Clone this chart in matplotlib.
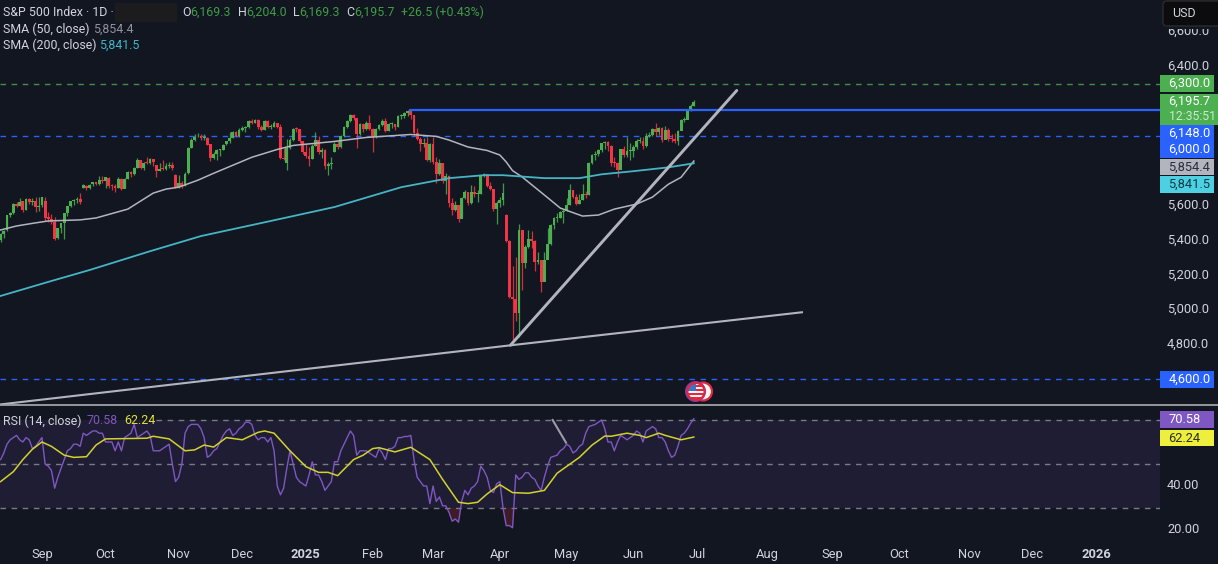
# plot.py
import matplotlib
matplotlib.use("Agg")
import matplotlib.pyplot as plt
from matplotlib.patches import Circle, FancyBboxPatch, Rectangle
import numpy as np

plt.rcParams['font.family'] = ['Roboto', 'DejaVu Sans']

BG = '#121620'
UP = '#4caf50'
DOWN = '#f23645'
TEXT = '#d1d4dc'

# Daily candles, Aug 2024 to Jun 2025
opens = [
    5400, 5434, 5460, 5543, 5556, 5608, 5597, 5622, 5575, 5637, 5617, 5626, 5592, 5600,
    5623, 5530, 5519, 5505, 5410, 5472, 5497, 5555, 5596, 5627, 5632, 5635, 5702, 5712, 5702, 5720, 5733, 5724, 5745, 5738,
    5758, 5710, 5708, 5700, 5752, 5696, 5752, 5792, 5780, 5817, 5859, 5816, 5842, 5842, 5865, 5830, 5798, 5812, 5810, 5823, 5832, 5775,
    5705, 5727, 5712, 5786, 5930, 5973, 5996, 6000, 5985, 5985, 5950, 5870, 5893, 5917, 5917, 5950, 5969, 5988, 6021, 5998,
    6032, 6047, 6050, 6086, 6075, 6090, 6052, 6034, 6084, 6051, 6051, 6074, 6050, 5872, 5842, 5930, 5974, 6040, 6037, 5970, 5906,
    5882, 5868, 5942, 5975, 5909, 5918, 5827, 5836, 5905, 5950, 5937, 5997, 6049, 6086, 6119, 6101, 6012, 6067, 6039, 6071,
    6040, 5994, 6038, 6061, 6083, 6026, 6066, 6068, 6052, 6115, 6115, 6130, 6144, 6118, 6013, 5983, 5955, 5956, 5861,
    5955, 5849, 5778, 5842, 5738, 5770, 5615, 5572, 5599, 5522, 5639, 5675, 5615, 5675, 5663, 5667, 5768, 5777, 5712, 5693, 5581,
    5612, 5633, 5545, 5397, 5074, 5062, 4983, 5457, 5268, 5363, 5406, 5397, 5276, 5283, 5158, 5287, 5376, 5485, 5525, 5529, 5561,
    5569, 5604, 5687, 5650, 5607, 5631, 5664, 5660, 5844, 5887, 5892, 5917, 5958, 5964, 5940, 5845, 5842, 5802, 5922, 5889, 5912,
    5912, 5936, 5970, 5971, 5939, 6000, 6006, 6038, 6022, 6045, 5977, 6033, 5982, 5980, 5968, 6025, 6092, 6092, 6141, 6169.3,
]
highs = [
    5440, 5460, 5546, 5562, 5612, 5621, 5643, 5626, 5643, 5642, 5643, 5649, 5647, 5650,
    5650, 5560, 5552, 5530, 5470, 5482, 5502, 5562, 5600, 5636, 5650, 5670, 5720, 5715, 5722, 5735, 5735, 5767, 5768, 5765,
    5765, 5720, 5720, 5760, 5755, 5758, 5796, 5795, 5822, 5872, 5862, 5846, 5878, 5870, 5866, 5815, 5842, 5862, 5842, 5850, 5850, 5780,
    5772, 5740, 5790, 5935, 5985, 6012, 6017, 6010, 6008, 5990, 5955, 5905, 5925, 5925, 5955, 5972, 6020, 6025, 6025, 6044,
    6055, 6055, 6090, 6098, 6095, 6094, 6060, 6090, 6090, 6065, 6085, 6075, 6070, 5930, 5980, 5985, 6045, 6050, 6040, 5970, 5955,
    5935, 5950, 6021, 6000, 5930, 5925, 5850, 5875, 5965, 5970, 6005, 6055, 6092, 6125, 6125, 6030, 6075, 6070, 6085, 6121,
    6045, 6042, 6065, 6095, 6100, 6075, 6076, 6065, 6118, 6125, 6135, 6148, 6146, 6120, 6045, 5992, 5985, 5995, 5960,
    5990, 5880, 5865, 5845, 5785, 5775, 5640, 5625, 5600, 5645, 5685, 5675, 5715, 5710, 5685, 5775, 5785, 5780, 5735, 5695, 5625,
    5650, 5730, 5550, 5400, 5250, 5300, 5490, 5460, 5370, 5460, 5450, 5400, 5330, 5285, 5330, 5470, 5490, 5530, 5553, 5567, 5580,
    5640, 5720, 5687, 5665, 5665, 5720, 5680, 5850, 5895, 5910, 5925, 5960, 5970, 5970, 5945, 5880, 5850, 5925, 5940, 5990, 5960,
    5945, 5980, 5990, 5995, 6015, 6022, 6045, 6075, 6050, 6050, 6055, 6045, 6010, 6018, 6030, 6098, 6105, 6145, 6185, 6204,
]
lows = [
    5390, 5410, 5455, 5530, 5550, 5590, 5595, 5560, 5575, 5610, 5600, 5560, 5570, 5590,
    5510, 5505, 5495, 5400, 5405, 5440, 5405, 5540, 5590, 5600, 5615, 5605, 5700, 5690, 5695, 5710, 5715, 5715, 5730, 5700,
    5700, 5690, 5675, 5700, 5690, 5700, 5750, 5760, 5775, 5815, 5810, 5805, 5835, 5840, 5825, 5762, 5795, 5800, 5805, 5815, 5800, 5700,
    5700, 5700, 5710, 5780, 5930, 5970, 5990, 5975, 5975, 5945, 5855, 5865, 5860, 5885, 5915, 5945, 5960, 5985, 5990, 5995,
    6025, 6020, 6045, 6070, 6075, 6040, 6025, 6030, 6045, 6040, 6050, 6045, 5865, 5860, 5805, 5925, 5970, 6020, 5960, 5895, 5870,
    5825, 5865, 5940, 5895, 5870, 5810, 5775, 5810, 5905, 5925, 5930, 5990, 6045, 6080, 6090, 5930, 6005, 6020, 6035, 6030,
    5908, 5985, 6030, 6055, 6020, 6025, 6045, 6030, 6050, 6095, 6100, 6115, 6095, 6005, 5975, 5910, 5935, 5855, 5850,
    5835, 5730, 5775, 5730, 5665, 5590, 5545, 5565, 5505, 5530, 5635, 5600, 5610, 5650, 5620, 5665, 5760, 5705, 5685, 5570, 5490,
    5590, 5600, 5390, 5065, 4800, 4935, 4845, 5115, 5240, 5355, 5355, 5220, 5260, 5100, 5205, 5340, 5370, 5465, 5505, 5525, 5500,
    5565, 5600, 5640, 5600, 5605, 5630, 5640, 5660, 5840, 5860, 5885, 5905, 5925, 5910, 5825, 5820, 5765, 5865, 5875, 5875, 5860,
    5880, 5925, 5960, 5925, 5935, 5995, 6000, 6000, 6005, 5965, 5985, 5970, 5965, 5960, 5945, 6060, 6080, 6095, 6140, 6169.3,
]
closes = [
    5434, 5455, 5543, 5554, 5608, 5597, 5621, 5571, 5635, 5617, 5625, 5592, 5592, 5648,
    5529, 5520, 5503, 5408, 5471, 5496, 5554, 5596, 5626, 5633, 5634, 5618, 5714, 5702, 5718, 5732, 5722, 5745, 5738, 5762,
    5709, 5709, 5700, 5751, 5696, 5751, 5792, 5780, 5815, 5859, 5815, 5842, 5841, 5865, 5851, 5797, 5809, 5808, 5823, 5832, 5813, 5705,
    5728, 5712, 5782, 5929, 5973, 5995, 6001, 5984, 5985, 5949, 5870, 5893, 5917, 5917, 5948, 5969, 5987, 6021, 5998, 6032,
    6047, 6050, 6086, 6075, 6090, 6052, 6034, 6084, 6051, 6051, 6074, 6050, 5872, 5867, 5930, 5974, 6040, 6037, 5970, 5906, 5882,
    5868, 5942, 5975, 5909, 5918, 5827, 5836, 5842, 5950, 5937, 5997, 6049, 6086, 6119, 6101, 6012, 6067, 6039, 6071, 6040,
    5994, 6038, 6061, 6083, 6026, 6066, 6068, 6052, 6115, 6115, 6130, 6144, 6118, 6013, 5983, 5955, 5956, 5861, 5955,
    5849, 5778, 5842, 5738, 5770, 5615, 5572, 5599, 5522, 5639, 5675, 5615, 5675, 5663, 5667, 5768, 5777, 5712, 5693, 5581, 5612,
    5633, 5671, 5397, 5074, 5062, 4983, 5457, 5268, 5363, 5406, 5397, 5276, 5283, 5158, 5287, 5376, 5485, 5525, 5529, 5561, 5569,
    5604, 5687, 5650, 5607, 5631, 5664, 5660, 5844, 5887, 5892, 5917, 5958, 5964, 5940, 5845, 5842, 5802, 5922, 5889, 5912, 5912,
    5936, 5970, 5971, 5939, 6000, 6006, 6038, 6022, 6045, 5977, 6033, 5982, 5980, 5968, 6025, 6092, 6092, 6141, 6173, 6195.7,
]

# Moving averages, read at the bars where the curve bends
sma50_bars = [0, 5, 10, 15, 20, 25, 30, 40, 48, 52, 56, 62, 67, 79, 87, 92, 105, 115, 129, 137, 141, 147, 153, 157, 159, 161, 164, 171, 176, 183, 188, 193, 200, 205, 210, 214, 218]
sma50_vals = [5458, 5481, 5496, 5510, 5513, 5516, 5527, 5578, 5670, 5693, 5704, 5744, 5784, 5876, 5921, 5944, 5967, 5990, 6007, 5996, 5975, 5935, 5915, 5889, 5849, 5799, 5763, 5659, 5584, 5538, 5544, 5578, 5607, 5647, 5721, 5761, 5854.4]
sma200_bars = [0, 16, 28, 47, 63, 85, 105, 126, 141, 152, 158, 171, 182, 189, 199, 210, 218]
sma200_vals = [5079, 5165, 5228, 5336, 5423, 5510, 5590, 5704, 5756, 5773, 5773, 5756, 5756, 5778, 5796, 5818, 5841.5]

# RSI pane
rsi_vals = [
    52, 55, 59, 61, 62, 63, 61, 60, 62, 61, 57, 58, 60, 62, 50, 49, 47, 39, 44, 48,
    52, 56, 57, 59, 59, 58, 64, 63, 64, 65, 65, 64, 64, 60, 60, 60, 56, 60, 56, 62,
    63, 64, 68, 62, 63, 64, 65, 63, 56, 56, 56, 57, 58, 59, 50, 42, 44, 50, 64, 67,
    68, 68, 68, 66, 62, 53, 54, 56, 57, 60, 63, 65, 66, 63, 64, 66, 67, 69, 69, 68,
    63, 61, 62, 62, 60, 62, 56, 40, 36, 39, 48, 56, 50, 44, 42, 41, 40, 45, 51, 45,
    45, 42, 38, 40, 42, 51, 51, 56, 59, 62, 65, 63, 54, 56, 56, 56, 55, 54, 53, 57,
    55, 52, 57, 57, 58, 62, 62, 62.5, 62.5, 63, 52, 44, 42, 40, 40, 32, 40, 33, 35, 31,
    31, 28, 24, 25, 23.5, 33, 38, 36, 39, 40, 42, 49, 47, 44, 38, 37, 41, 42, 30, 22,
    22, 21, 45, 43, 44, 46, 46, 44, 43, 40, 38, 44, 49, 53, 53.5, 54, 56, 57, 59, 58,
    55, 56, 58, 59, 64, 67, 67.5, 68, 69, 70, 66, 60, 60, 56, 60, 63, 62, 61, 62, 63,
    65, 64, 60, 65, 66, 67, 66, 62, 62, 60, 56, 53, 54, 58, 63, 64, 66, 68.5, 70.58,
]
rsi_ma_bars = [0, 4, 7, 10, 13, 16, 20, 23, 27, 30, 33, 46, 48, 53, 58, 61, 64, 67, 71, 76, 81, 83, 86, 91, 96, 100, 103, 106, 111, 114, 117, 119, 124, 129, 135, 139, 144, 147, 150, 153, 157, 161, 166, 171, 175, 182, 186, 190, 192, 197, 201, 203, 207, 209, 214, 218]
rsi_ma_vals = [42, 46.5, 52, 56.7, 60, 58, 54, 53, 53.3, 58.6, 61.4, 61.7, 62.6, 61.4, 56, 56.4, 58.6, 57.7, 62, 61, 64.4, 65, 64, 56, 48.8, 46.2, 46.2, 44.7, 52, 54, 57, 57.4, 55.5, 57.6, 52, 43, 32.6, 32, 32.6, 36.4, 40.6, 37, 36.7, 38, 45.8, 53, 58.6, 62.7, 62.6, 64, 63, 62, 64, 63, 61, 62.24]

# Time axis, positions in bars (future months included)
tick_bars = [13, 33, 56, 76, 95.7, 117, 136, 157, 178, 199, 219, 241, 261.4, 282.5, 304.5, 324.3, 344.5]
tick_labels = ['Sep', 'Oct', 'Nov', 'Dec', '2025', 'Feb', 'Mar', 'Apr', 'May', 'Jun', 'Jul', 'Aug', 'Sep', 'Oct', 'Nov', 'Dec', '2026']

price_ticks = [4800, 5000, 5200, 5400, 5600, 6400, 6600]
rsi_ticks = [20, 40]

# Drawn levels and trendlines
level_green = 6300
level_blue = 6000
level_low = 4600
level_top = 6148
level_top_start = 128.5
rise_bars = [160.3, 231.5]
rise_vals = [4795, 6260]
floor_bars = [-0.2, 160.3, 252]
floor_vals = [4455, 4795, 4985]
rsi_stub_bars = [173.6, 177.8]
rsi_stub_vals = [70, 59.7]
rsi_top_start = 49

bars = np.arange(len(closes))
o = np.array(opens, dtype=float)
c = np.array(closes, dtype=float)

fig = plt.figure(figsize=(12.18, 5.64), dpi=100, facecolor=BG)
ax = fig.add_axes([0, 159 / 564, 1160 / 1218, 405 / 564], facecolor=BG)
ax2 = fig.add_axes([0, 23 / 564, 1160 / 1218, 134 / 564], facecolor=BG)

xlim = (-0.19, 364.6)

# Price pane
ax.hlines(level_green, *xlim, color='#3f8f46', lw=1, linestyles=(0, (4, 4)))
ax.hlines(level_blue, *xlim, color='#2962ff', lw=1, linestyles=(0, (4, 4)))
ax.hlines(level_low, *xlim, color='#2962ff', lw=1, linestyles=(0, (4, 4)))

colors = [UP if cl >= op else DOWN for op, cl in zip(o, c)]
ax.vlines(bars, lows, highs, color=colors, lw=0.9, alpha=0.85, zorder=2)
ax.bar(bars, np.maximum(np.abs(c - o), 5), bottom=np.minimum(o, c), width=0.88, color=colors, zorder=3)

ax.plot(sma50_bars, sma50_vals, color='#b2b5be', lw=1.1, zorder=4)
ax.plot(sma200_bars, sma200_vals, color='#45b5c6', lw=1.3, zorder=4)
ax.hlines(level_top, level_top_start, xlim[1], color='#2962ff', lw=1.6, zorder=4)
ax.plot(rise_bars, rise_vals, color='#b2b5be', lw=2.1, zorder=5, solid_capstyle='round')
ax.plot(floor_bars, floor_vals, color='#b2b5be', lw=1.5, zorder=5)

ax.set_xlim(xlim)
ax.set_ylim(4452, 6780)
ax.set_xticks([])
ax.yaxis.tick_right()
ax.set_yticks(price_ticks)
ax.set_yticklabels([f'{p:,.1f}' for p in price_ticks], va='center')
ax.tick_params(axis='y', length=0, pad=5, colors=TEXT, labelsize=9.3)

# RSI pane
ax2.axhspan(30, 70, color='#7e57c2', alpha=0.12, lw=0)
ax2.hlines([50, 30], *xlim, color='#787b86', lw=1, linestyles=(0, (4, 4)))
ax2.hlines(70, rsi_top_start, xlim[1], color='#787b86', lw=1, linestyles=(0, (4, 4)))
rsi_arr = np.array(rsi_vals, dtype=float)
ax2.fill_between(bars, rsi_arr, 30, where=rsi_arr < 30, interpolate=True, color=DOWN, alpha=0.2, lw=0)
ax2.plot(bars, rsi_vals, color='#7e57c2', lw=1.0)
ax2.plot(rsi_ma_bars, rsi_ma_vals, color='#d2d22f', lw=1.1)
ax2.plot(rsi_stub_bars, rsi_stub_vals, color='#9a9ca6', lw=1.5)

ax2.set_xlim(xlim)
ax2.set_ylim(15, 75.9)
ax2.yaxis.tick_right()
ax2.set_yticks(rsi_ticks)
ax2.set_yticklabels([f'{v:.2f}' for v in rsi_ticks], va='center')
ax2.tick_params(axis='y', length=0, pad=5, colors=TEXT, labelsize=9.3)
ax2.set_xticks(tick_bars)
ax2.set_xticklabels(tick_labels)
ax2.tick_params(axis='x', length=0, pad=5, colors=TEXT, labelsize=9.3)
for lab in ax2.get_xticklabels():
    if lab.get_text() in ('2025', '2026'):
        lab.set_fontweight('bold')

for a in (ax, ax2):
    for s in a.spines.values():
        s.set_visible(False)

# Overlay in pixels for the header, price tags and icons
ov = fig.add_axes([0, 0, 1, 1], zorder=10)
ov.set_xlim(0, 1218)
ov.set_ylim(564, 0)
ov.axis('off')

ov.hlines(405, 0, 1218, color='#a0a2a8', lw=1.3)


def label(x, y, s, color=TEXT, size=8.9, **kw):
    ov.text(x, y, s, color=color, fontsize=size, va='center', **kw)


def price_tag(top, bottom, s, color, text_color='#ffffff', right=1214):
    ov.add_patch(Rectangle((1160, top), right - 1160, bottom - top, color=color, lw=0))
    label(1168.5, (top + bottom) / 2, s, color=text_color, size=9.3)


green_txt = '#3f9c46'
ov.add_patch(Rectangle((115, 3), 62, 19, color='#1c1c1e', lw=0))
label(3, 12, 'S&P 500 Index · 1D ·')
label(182, 12, 'O')
label(190, 12, '6,169.3', green_txt)
label(238, 12, 'H')
label(246, 12, '6,204.0', green_txt)
label(293, 12, 'L')
label(299, 12, '6,169.3', green_txt)
label(346, 12, 'C')
label(354, 12, '6,195.7', green_txt)
label(401, 12, '+26.5 (+0.43%)', green_txt)
label(3, 29, 'SMA (50, close)')
label(93, 29, '5,854.4', '#8f929b')
label(3, 45.5, 'SMA (200, close)')
label(99, 45.5, '5,841.5', '#3fb6c9')
label(3, 421, 'RSI (14, close)')
label(87, 421, '70.58', '#7e57c2')
label(124, 421, '62.24', '#e0e03a')

price_tag(75, 92, '6,300.0', UP)
price_tag(94, 125, '6,195.7', UP, right=1218)
ov.texts[-1].set_y(101.5)
label(1169, 116, '12:35:51', color='#cfe8d0', size=8.8)
price_tag(125, 141, '6,148.0', '#2962ff')
price_tag(141, 158, '6,000.0', '#2962ff')
price_tag(159, 175, '5,854.4', '#b2b5be', '#2a2e39')
price_tag(176, 193, '5,841.5', '#4dd0e1', '#0f3b44')
price_tag(371, 388, '4,600.0', '#2962ff')
price_tag(411, 428, '70.58', '#7e57c2')
price_tag(430, 446, '62.24', '#eeee3c', '#2a2e20')

# USD button hides the top of the 6,600 label
ov.add_patch(Rectangle((1160, 0), 58, 28.5, color=BG, lw=0, zorder=5))
ov.add_patch(FancyBboxPatch((1163, 1), 62, 25, boxstyle='round,pad=0,rounding_size=4',
                            fc='#0c0c0e', ec='#2b2c30', lw=1, zorder=6))
label(1172, 13.5, 'USD', size=9, zorder=7)

# Event marker: US flag coin with a second one behind it
ov.add_patch(Circle((703, 391.5), 9, fc='#f5f5f5', ec='#e0283e', lw=1.6, zorder=3))
ov.add_patch(Circle((695.5, 391.5), 10.5, fc='#7e3fa8', ec='none', zorder=4))
disk = Circle((696, 391.5), 8.5, fc='#f5f5f5', ec='none', zorder=5)
ov.add_patch(disk)
for y0 in (385, 389, 393, 397):
    stripe = Rectangle((686, y0), 20, 2, color='#e0283e', lw=0, zorder=6)
    ov.add_patch(stripe)
    stripe.set_clip_path(disk)
canton = Rectangle((686, 382), 10, 9, color='#3f73c9', lw=0, zorder=7)
ov.add_patch(canton)
canton.set_clip_path(disk)
ov.add_patch(Circle((696, 391.5), 8.5, fc='none', ec='#e0283e', lw=1.5, zorder=8))

fig.savefig('out.png', dpi=100, facecolor=BG)
